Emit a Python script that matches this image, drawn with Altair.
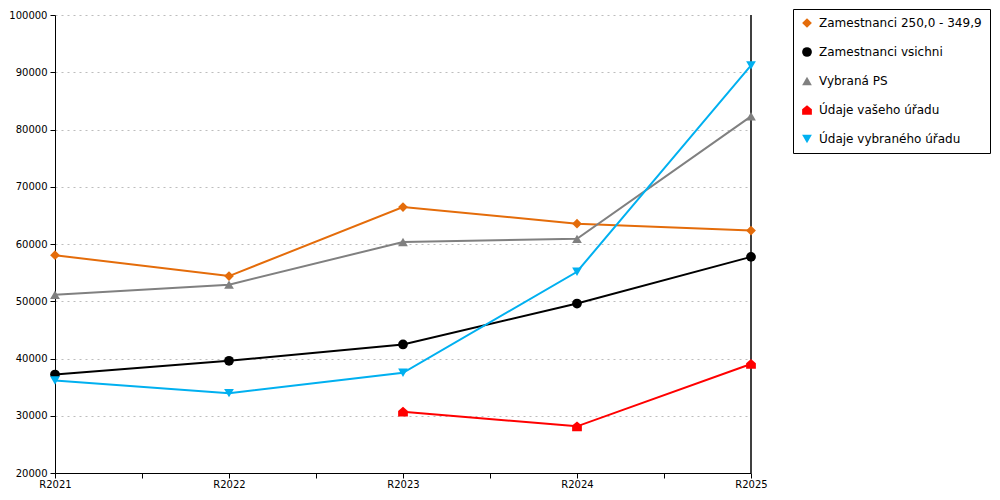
import altair as alt
import pandas as pd

years = [2021, 2022, 2023, 2024, 2025]
series_names = [
    "Zamestnanci 250,0 - 349,9",
    "Zamestnanci vsichni",
    "Vybraná PS",
    "Údaje vašeho úřadu",
    "Údaje vybraného úřadu",
]
zam_250 = [58050, 54400, 66450, 63550, 62350]
zam_all = [37200, 39600, 42450, 49600, 57750]
vybrana_ps = [51150, 52900, 60350, 60900, 82300]
vas_urad = [None, None, 30700, 28150, 39050]
vybrany_urad = [36150, 33950, 37500, 55150, 91200]

colors = ["#E46C0A", "#000000", "#808080", "#FF0000", "#00B0F0"]
house = "M0,-1L1,-0.15L1,1L-1,1L-1,-0.15Z"
shapes = ["diamond", "circle", "triangle-up", house, "triangle-down"]

color_of = dict(zip(series_names, colors))
rows = []
for name, vals in zip(series_names, [zam_250, zam_all, vybrana_ps, vas_urad, vybrany_urad]):
    for y, v in zip(years, vals):
        if v is not None:
            rows.append({"rok": y, "hodnota": v, "serie": name, "barva": color_of[name]})
df = pd.DataFrame(rows)

x_ticks = [2021, 2021.5, 2022, 2022.5, 2023, 2023.5, 2024, 2024.5, 2025]
y_ticks = list(range(20000, 100001, 10000))

x_enc = alt.X(
    "rok:Q",
    scale=alt.Scale(domain=[2021, 2025], nice=False, zero=False),
    axis=alt.Axis(
        values=x_ticks,
        labelExpr="datum.value % 1 == 0 ? 'R' + datum.value : ''",
        title=None,
        grid=False,
        tickSize=5,
        labelPadding=1,
        domainColor="black",
        tickColor="black",
        labelColor="black",
        labelFontSize=10,
        labelFont="DejaVu Sans",
        labelFlush=False,
    ),
)
y_enc = alt.Y(
    "hodnota:Q",
    scale=alt.Scale(domain=[20000, 100000], nice=False, zero=False),
    axis=alt.Axis(
        values=y_ticks,
        format="d",
        title=None,
        grid=True,
        gridDash=[2, 4],
        gridColor="#bdbdbd",
        gridWidth=1,
        tickSize=5,
        labelPadding=3,
        domainColor="black",
        tickColor="black",
        labelColor="black",
        labelFontSize=10,
        labelFont="DejaVu Sans",
    ),
)

legend = alt.Legend(
    title=None,
    orient="none",
    legendX=738,
    legendY=-6,
    strokeColor="black",
    fillColor="white",
    padding=8,
    labelFont="DejaVu Sans",
    labelFontSize=12,
    labelColor="black",
    symbolSize=95,
    symbolStrokeWidth=0,
    rowPadding=17,
    labelOffset=6,
    labelLimit=300,
)

lines = alt.Chart(df).mark_line(strokeWidth=2).encode(
    x=x_enc,
    y=y_enc,
    stroke=alt.Stroke("barva:N", scale=None),
    detail="serie:N",
)

points = alt.Chart(df).mark_point(filled=True, size=95, opacity=1).encode(
    x=x_enc,
    y=y_enc,
    color=alt.Color("serie:N", scale=alt.Scale(domain=series_names, range=colors), legend=legend),
    shape=alt.Shape("serie:N", scale=alt.Scale(domain=series_names, range=shapes), legend=legend),
)

right_line = alt.Chart(pd.DataFrame({"rok": [2025]})).mark_rule(color="black", strokeWidth=1.5).encode(
    x=alt.X("rok:Q")
)

chart = (
    alt.layer(lines, right_line, points)
    .properties(
        width=696,
        height=458,
        padding={"left": 0, "top": 0, "right": 0, "bottom": 0},
    )
    .configure_view(stroke=None)
)

chart.save("out.html", embed_options={"renderer": "svg", "actions": False})
